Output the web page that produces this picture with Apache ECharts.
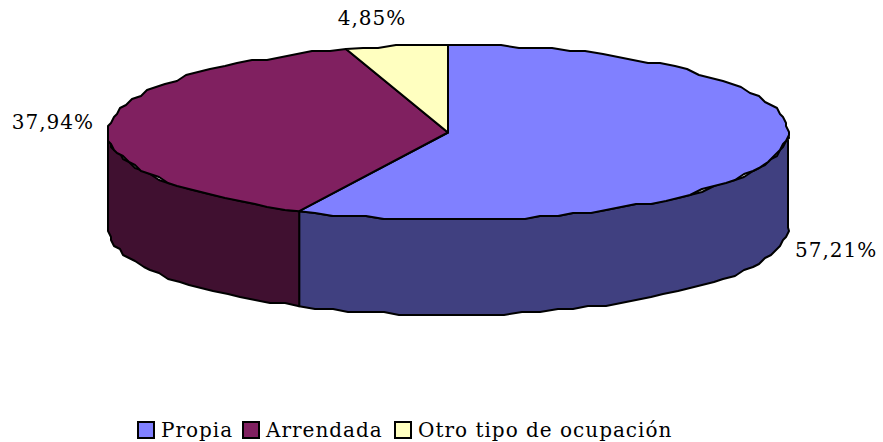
<!DOCTYPE html>
<html><head><meta charset="utf-8">
<style>html,body{margin:0;padding:0;background:#fff}#c{width:883px;height:442px}
#c svg text{letter-spacing:1px}</style>
<script src="https://cdn.jsdelivr.net/npm/echarts@6/dist/echarts.min.js"></script>
</head><body><div id="c"></div>
<script>
var categories = ['Propia', 'Arrendada', 'Otro tipo de ocupación'];
var values = [57.21, 37.94, 4.85];
var valueLabels = ['57,21%', '37,94%', '4,85%'];
var topColors = ['#8080FF', '#802060', '#FFFFC0'];
var sideColors = ['#404080', '#401030', '#808060'];

var PIE = {cx: 448, cy: 132.5, rx: 340, ry: 87.5, depth: 95, grid: 3, step: 3};
var LABELS = [
  {x: 795, y: 250, align: 'left'},
  {x: 94, y: 122, align: 'right'},
  {x: 372, y: 18, align: 'center'}
];
var LEGEND_LEFT = [137, 242, 394];
var total = values.reduce(function (a, b) { return a + b; }, 0);
function pt(deg, dy) {
  var r = deg * Math.PI / 180;
  return [PIE.cx + PIE.rx * Math.sin(r), PIE.cy - PIE.ry * Math.cos(r) + (dy || 0)];
}
function snap(p) {
  return [Math.round(p[0] / PIE.grid) * PIE.grid, Math.round(p[1] / PIE.grid) * PIE.grid];
}
function arc(a, b, dy) {
  var out = [], n = Math.max(2, Math.ceil(Math.abs(b - a) / PIE.step));
  for (var i = 0; i <= n; i++) {
    var p = pt(a + (b - a) * i / n, dy);
    out.push(i === 0 || i === n ? p : snap(p));
  }
  return out;
}
function makeRender(idx) {
  return function (params, api) {
    var before = 0;
    for (var i = 0; i < idx; i++) before += values[i];
    var a = before / total * 360, b = (before + api.value(0)) / total * 360;
    var children = [];
    var s = Math.max(a, 90), e = Math.min(b, 270);
    if (e > s) {
      var side = arc(s, e, 0).concat(arc(e, s, PIE.depth));
      children.push({type: 'polygon', shape: {points: side},
        style: {fill: sideColors[idx], stroke: '#000', lineWidth: 2, lineJoin: 'round'}});
    }
    var wedge = [[PIE.cx, PIE.cy]].concat(arc(a, b, 0));
    children.push({type: 'polygon', shape: {points: wedge},
      style: {fill: topColors[idx], stroke: '#000', lineWidth: 2, lineJoin: 'round'}});
    var L = LABELS[idx];
    children.push({type: 'text', x: L.x, y: L.y, style: {text: valueLabels[idx], fill: '#000',
      font: '20px "DejaVu Serif"', align: L.align, verticalAlign: 'middle'}});
    return {type: 'group', children: children};
  };
}
var chart = echarts.init(document.getElementById('c'), null, {renderer: 'svg'});
chart.setOption({
  animation: false,
  backgroundColor: '#fff',
  legend: categories.map(function (name, i) {
    return {
      left: LEGEND_LEFT[i], top: 420, itemWidth: 16, itemHeight: 16, padding: 0,
      icon: 'rect', data: [name],
      textStyle: {fontFamily: 'DejaVu Serif', fontSize: 20, color: '#000', padding: [0, 0, 0, 2]}
    };
  }),
  series: categories.map(function (name, i) {
    return {
      type: 'custom', name: name, coordinateSystem: 'none', silent: true,
      itemStyle: {color: topColors[i], borderColor: '#000', borderWidth: 2},
      renderItem: makeRender(i),
      data: [[values[i]]]
    };
  })
});
</script></body></html>
